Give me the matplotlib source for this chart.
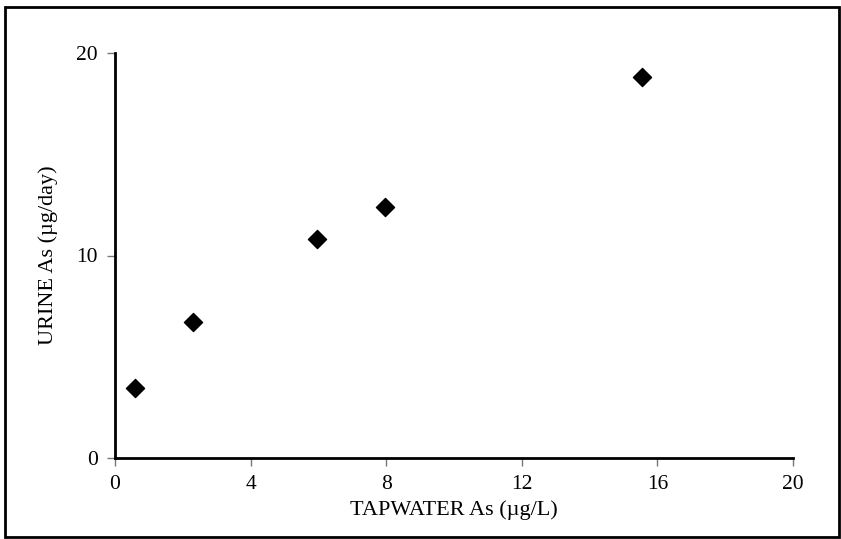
import matplotlib
matplotlib.use("Agg")
import matplotlib.pyplot as plt
from matplotlib.patches import Rectangle

tapwater = [0.6, 2.3, 5.95, 7.95, 15.55]
urine = [3.45, 6.7, 10.8, 12.4, 18.8]
xticks = [0, 4, 8, 12, 16, 20]
yticks = [0, 10, 20]

plt.rcParams['font.family'] = ['Liberation Serif', 'DejaVu Serif']

W, H = 841, 539
fig = plt.figure(figsize=(W / 100, H / 100), dpi=100)
ax = fig.add_axes([115 / W, 1 - 458 / H, (793 - 115) / W, (458 - 53) / H])

ax.scatter(tapwater, urine, marker='D', s=85, color='black', zorder=3,
           clip_on=False)

ax.set_xlim(0, 20)
ax.set_ylim(0, 20)
ax.set_xticks(xticks)
ax.set_yticks(yticks)
ax.tick_params(direction='out', length=6, width=1, color='#777777',
               labelsize=15.5, labelcolor='black')
ax.tick_params(axis='x', pad=6.5)
ax.tick_params(axis='y', pad=6.5)
for s in ['top', 'right']:
    ax.spines[s].set_visible(False)
for s in ['left', 'bottom']:
    ax.spines[s].set_linewidth(2)
    ax.spines[s].set_color('black')

ax.set_xlabel('TAPWATER As (µg/L)', fontsize=16, labelpad=4)
ax.set_ylabel('URINE As (µg/day)', fontsize=16, labelpad=13)

# figure frame
fig.add_artist(Rectangle((5 / W, 1 - 537 / H), (839 - 5) / W, (537 - 7) / H,
                         transform=fig.transFigure, fill=False,
                         edgecolor='black', linewidth=2))

fig.savefig('out.png', dpi=100)
